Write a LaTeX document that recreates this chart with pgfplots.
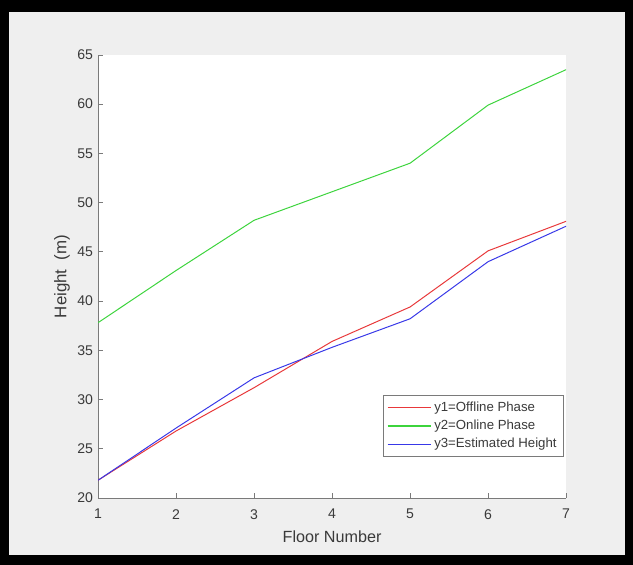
\documentclass[border=0pt]{standalone}
\usepackage{fontspec}
\setmainfont{Liberation Sans}[Ligatures=NoCommon]
\usepackage{pgfplots}
\pgfplotsset{compat=1.18}
\definecolor{mlred}{HTML}{E8383A}
\definecolor{mlgreen}{HTML}{3CD43C}
\definecolor{mlblue}{HTML}{3838E8}
\definecolor{mlbg}{HTML}{EFEFEF}
\definecolor{mlaxis}{HTML}{7A7A7A}
\definecolor{mltext}{HTML}{3A3A3A}
\begin{document}
\begin{tikzpicture}
% figure frame, 1 unit = 1 px of the reference
\begin{scope}[x=0.025cm,y=0.025cm]
\fill[black] (0,0) rectangle (633,565);
\fill[mlbg] (9,10) rectangle (625,553);
\end{scope}
\begin{axis}[
  at={(2.45cm,1.675cm)}, anchor=south west,
  scale only axis, width=11.7cm, height=11.075cm,
  axis x line=bottom, axis y line=left,
  axis line style={-, mlaxis, line width=0.6pt},
  axis background/.style={fill=white},
  xmin=1, xmax=7, ymin=20, ymax=65,
  xtick={1,...,7}, ytick={20,25,...,65},
  tick align=inside, major tick length=0.12cm,
  tick style={mlaxis, line width=0.5pt},
  tick label style={font=\fontsize{10}{12}\selectfont, text=mltext},
  xticklabel style={yshift=-4.5pt},
  /pgf/number format/assume math mode=true,
  xlabel={Floor Number}, ylabel={Height\ \ (m)},
  xlabel style={font=\fontsize{11.5}{13}\selectfont, text=mltext,
    at={(axis description cs:0.5,-0.088)}, anchor=center},
  ylabel style={font=\fontsize{12}{14}\selectfont, text=mltext,
    at={(axis description cs:-0.077,0.5)}, anchor=center},
  legend style={
    at={(0.994,0.093)}, anchor=south east,
    font=\fontsize{9.4}{11}\selectfont, text=mltext,
    draw=mlaxis, fill=white, inner sep=2.6pt, row sep=0.6pt,
  },
  legend cell align=left,
  legend image post style={xscale=1.8, line width=0.8pt},
  every axis plot/.append style={line width=0.7pt},
]
\addplot[mlred] coordinates {(1,21.8)(2,26.8)(3,31.2)(4,35.9)(5,39.4)(6,45.1)(7,48.1)};
\addlegendentry{y1=Offline Phase}
\addplot[mlgreen] coordinates {(1,37.8)(2,43.1)(3,48.2)(4,51.1)(5,54.0)(6,59.9)(7,63.5)};
\addlegendentry{y2=Online Phase}
\addplot[mlblue] coordinates {(1,21.8)(2,27.1)(3,32.2)(4,35.3)(5,38.2)(6,44.0)(7,47.6)};
\addlegendentry{y3=Estimated Height}
\end{axis}
\end{tikzpicture}
\end{document}
